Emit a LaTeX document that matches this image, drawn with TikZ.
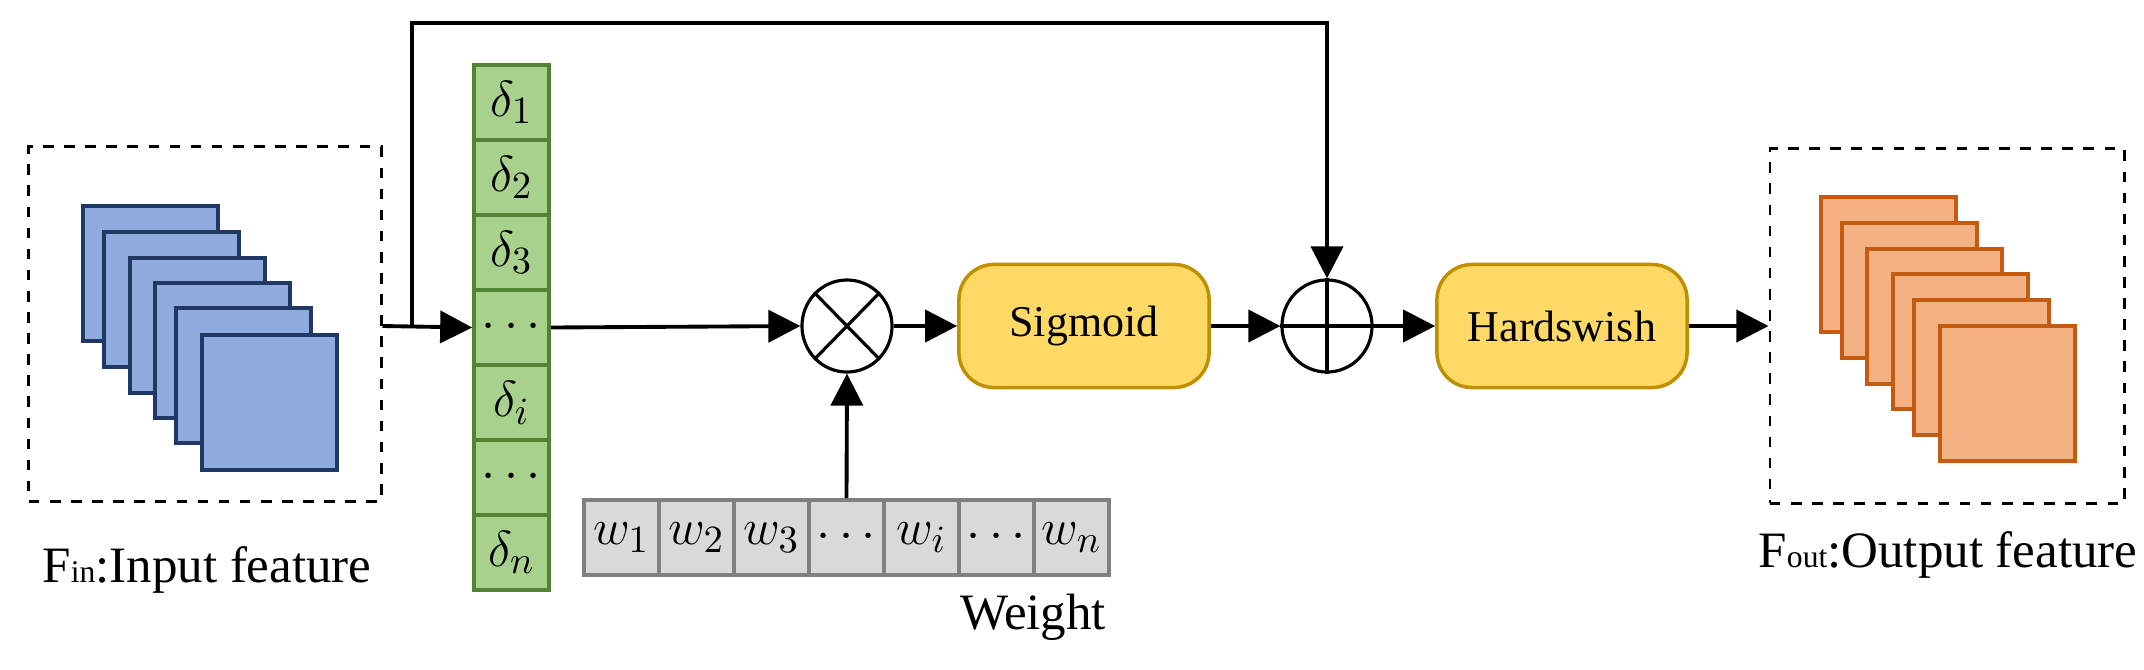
\documentclass[tikz,border=0pt]{standalone}
\usepackage{fontspec}
\setmainfont{Liberation Serif}
\usetikzlibrary{arrows.meta,shapes}
\definecolor{bluefill}{RGB}{143,170,220}
\definecolor{blueline}{RGB}{31,56,100}
\definecolor{orangefill}{RGB}{244,177,131}
\definecolor{orangeline}{RGB}{197,90,17}
\definecolor{greenfill}{RGB}{169,209,142}
\definecolor{greenline}{RGB}{84,130,53}
\definecolor{yellowfill}{RGB}{255,217,102}
\definecolor{yellowline}{RGB}{191,144,0}
\definecolor{grayfill}{RGB}{217,217,217}
\definecolor{grayline}{RGB}{128,128,128}
\tikzstyle{arrow} = [line width=1.1pt,-{Triangle[length=0.32cm,width=0.32cm]}]
\tikzstyle{line} = [line width=1.1pt]
\tikzstyle{fmap} = [draw, rectangle, line width=1pt, minimum size=1.35cm, inner sep=0pt]
\tikzstyle{cell} = [draw, rectangle, line width=1pt, minimum width=0.75cm, minimum height=0.75cm, inner sep=0pt, font=\fontsize{15}{15}\selectfont]
\tikzstyle{func} = [draw=yellowline, fill=yellowfill, rectangle, rounded corners=0.35cm, line width=1pt,
    minimum width=2.5cm, minimum height=1.23cm, font=\fontsize{12.5}{14}\selectfont]
\tikzstyle{op} = [draw, ellipse, line width=0.9pt, minimum width=0.9cm, minimum height=0.92cm, inner sep=0pt]

\begin{document}
\begin{tikzpicture}[x=0.01cm,y=-0.01cm]
            \useasboundingbox (0,0) rectangle (2144,669);
            % input feature
            \node[draw, dashed, line width=0.8pt, rectangle, minimum width=3.52cm, minimum height=3.54cm]
                (inbox) at (205,324) {};
            \foreach \x/\y [count=\i] in {81/204,102/230,128/256,153/281,174/306,200/333}
                \node[fmap, fill=bluefill, draw=blueline, anchor=north west] (in\i) at (\x,\y) {};
            \node[font=\fontsize{14.5}{16}\selectfont] (inlabel) at (207,570)
                {F{\fontsize{9}{9}\selectfont in}:Input feature};
            % delta column
            \foreach \t [count=\i] in {$\delta_1$,$\delta_2$,$\delta_3$,$\cdots$,$\delta_i$,$\cdots$,$\delta_n$}
                \node[cell, fill=greenfill, draw=greenline] (d\i) at (511.5,{65+37.5+75*(\i-1)}) {\t};
            % weight row
            \foreach \t [count=\i] in {$w_1$,$w_2$,$w_3$,$\cdots$,$w_i$,$\cdots$,$w_n$}
                \node[cell, fill=grayfill, draw=grayline] (w\i) at ({584+37.5+75*(\i-1)},537.5) {\t};
            \node[font=\fontsize{14.5}{16}\selectfont] (wlabel) at (1033,617) {Weight};
            % operators
            \node[op] (mul) at (847,326) {};
            \draw[line width=0.9pt] (mul.north west) -- (mul.south east) (mul.north east) -- (mul.south west);
            \node[func] (sig) at (1084,326) {Sigmoid};
            \node[op] (add) at (1327,326) {};
            \draw[line width=0.9pt] (add.north) -- (add.south) (add.west) -- (add.east);
            \node[func] (hsw) at (1562,326) {Hardswish};
            % output feature
            \node[draw, dashed, line width=0.8pt, rectangle, minimum width=3.54cm, minimum height=3.54cm]
                (outbox) at (1947,326) {};
            \foreach \x/\y [count=\i] in {1819/195,1840/221,1865/247,1891/272,1912/298,1938/324}
                \node[fmap, fill=orangefill, draw=orangeline, anchor=north west] (out\i) at (\x,\y) {};
            \node[font=\fontsize{14.5}{16}\selectfont] (outlabel) at (1948,555)
                {F{\fontsize{9}{9}\selectfont out}:Output feature};
            % connectors
            \coordinate (split) at (412,326);
            \coordinate (top) at (412,23);
            \draw[arrow] (inbox.east |- split) -- (d4.west);
            \draw[arrow] (d4.east) -- (mul.west);
            \draw[arrow] (w4.north) -- (mul.south);
            \draw[arrow] (mul.east) -- (sig.west);
            \draw[arrow] (sig.east) -- (add.west);
            \draw[arrow] (add.east) -- (hsw.west);
            \draw[arrow] (hsw.east) -- (outbox.west);
            \draw[arrow] (split) -- (top) -| (add.north);
        \end{tikzpicture}
\end{document}
